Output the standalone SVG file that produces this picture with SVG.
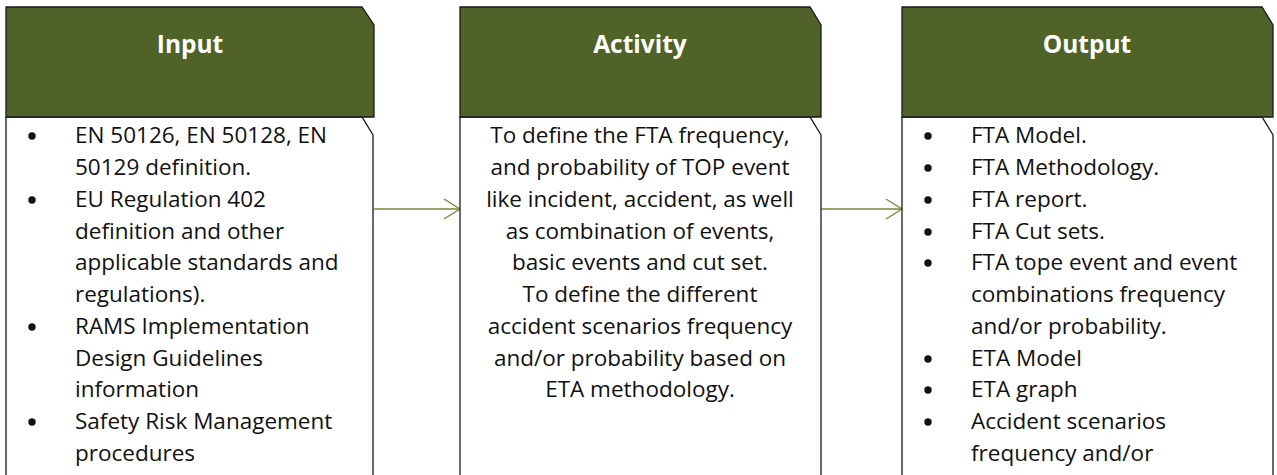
<svg xmlns="http://www.w3.org/2000/svg" width="1277" height="475" viewBox="0 0 1277 475">
<style>
.hdr{fill:#4f6228;stroke:#1a1a1a;stroke-width:1.3}
.body{fill:#ffffff;stroke:#1a1a1a;stroke-width:1.3}
.ht{font-family:"Open Sans","Noto Sans",sans-serif;font-size:24.5px;font-weight:bold;fill:#ffffff;text-anchor:middle}
.bt{font-family:"Open Sans","Noto Sans",sans-serif;font-size:22.5px;fill:#111111}
.ct{text-anchor:middle}
.conn{stroke:#6f8a3a;stroke-width:1.3;fill:none}
</style>
<defs>
<marker id="arr" markerWidth="20" markerHeight="24" refX="17" refY="11" orient="auto" markerUnits="userSpaceOnUse">
<path d="M1,1 L17,11 L1,21" fill="none" stroke="#6f8a3a" stroke-width="1.3"/>
</marker>
</defs>
<rect width="1277" height="475" fill="#ffffff"/>
<g id="connectors">
<line class="conn" x1="374" y1="209" x2="460" y2="209" marker-end="url(#arr)"/>
<line class="conn" x1="821" y1="209" x2="902" y2="209" marker-end="url(#arr)"/>
</g>
<g id="input">
<path class="body" d="M6,117 L362,117 L373,135 L373,480 L6,480 Z"/>
<path class="hdr" d="M6,7 L362,7 L374,25 L374,117 L6,117 Z"/>
<text class="ht" x="190" y="53">Input</text>
<g class="bt">
<circle cx="32" cy="136" r="3.7" fill="#111"/>
<circle cx="32" cy="200" r="3.7" fill="#111"/>
<circle cx="32" cy="327" r="3.7" fill="#111"/>
<circle cx="32" cy="422" r="3.7" fill="#111"/>
<text x="75" y="143">EN 50126, EN 50128, EN</text>
<text x="75" y="175">50129 definition.</text>
<text x="75" y="207">EU Regulation 402</text>
<text x="75" y="239">definition and other</text>
<text x="75" y="270">applicable standards and</text>
<text x="75" y="302">regulations).</text>
<text x="75" y="334">RAMS Implementation</text>
<text x="75" y="366">Design Guidelines</text>
<text x="75" y="397">information</text>
<text x="75" y="429">Safety Risk Management</text>
<text x="75" y="461">procedures</text>
</g>
</g>
<g id="activity">
<path class="body" d="M460,117 L810,117 L821,135 L821,480 L460,480 Z"/>
<path class="hdr" d="M460,7 L810,7 L821,25 L821,117 L460,117 Z"/>
<text class="ht" x="640" y="53">Activity</text>
<g class="bt ct">
<text x="640" y="143">To define the FTA frequency,</text>
<text x="640" y="175">and probability of TOP event</text>
<text x="640" y="207">like incident, accident, as well</text>
<text x="640" y="239">as combination of events,</text>
<text x="640" y="270">basic events and cut set.</text>
<text x="640" y="302">To define the different</text>
<text x="640" y="334">accident scenarios frequency</text>
<text x="640" y="366">and/or probability based on</text>
<text x="640" y="397">ETA methodology.</text>
</g>
</g>
<g id="output">
<path class="body" d="M902,117 L1262,117 L1273,135 L1273,480 L902,480 Z"/>
<path class="hdr" d="M902,7 L1262,7 L1273,25 L1273,117 L902,117 Z"/>
<text class="ht" x="1087" y="53">Output</text>
<g class="bt">
<circle cx="928" cy="136" r="3.7" fill="#111"/>
<circle cx="928" cy="168" r="3.7" fill="#111"/>
<circle cx="928" cy="200" r="3.7" fill="#111"/>
<circle cx="928" cy="232" r="3.7" fill="#111"/>
<circle cx="928" cy="263" r="3.7" fill="#111"/>
<circle cx="928" cy="359" r="3.7" fill="#111"/>
<circle cx="928" cy="390" r="3.7" fill="#111"/>
<circle cx="928" cy="422" r="3.7" fill="#111"/>
<text x="971" y="143">FTA Model.</text>
<text x="971" y="175">FTA Methodology.</text>
<text x="971" y="207">FTA report.</text>
<text x="971" y="239">FTA Cut sets.</text>
<text x="971" y="270">FTA tope event and event</text>
<text x="971" y="302">combinations frequency</text>
<text x="971" y="334">and/or probability.</text>
<text x="971" y="366">ETA Model</text>
<text x="971" y="397">ETA graph</text>
<text x="971" y="429">Accident scenarios</text>
<text x="971" y="461">frequency and/or</text>
</g>
</g>
</svg>
